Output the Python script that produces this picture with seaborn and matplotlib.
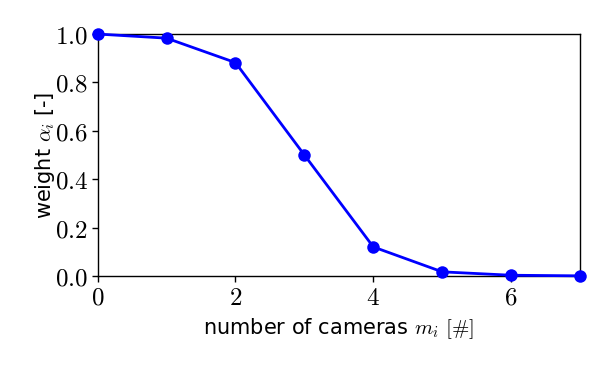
import numpy as np
import pandas as pd
import matplotlib
matplotlib.use("Agg")
import matplotlib.pyplot as plt
import seaborn as sns

# values
cameras = [0, 1, 2, 3, 4, 5, 6, 7]
weights = [1.0, 0.983, 0.882, 0.5, 0.12, 0.017, 0.003, 0.0005]
x_ticks = [0, 2, 4, 6]
y_ticks = [0.0, 0.2, 0.4, 0.6, 0.8, 1.0]

df = pd.DataFrame({"cameras": cameras, "weight": weights})

sns.set_theme(style="white")
plt.rcParams.update({
    "font.family": ["DejaVu Sans"],
    "mathtext.fontset": "cm",
    "axes.edgecolor": "black",
    "axes.linewidth": 1.0,
    "xtick.color": "black",
    "ytick.color": "black",
})

fig, ax = plt.subplots(figsize=(6.1, 3.66), dpi=100)
fig.subplots_adjust(left=0.16, right=0.951, top=0.907, bottom=0.246)

sns.lineplot(data=df, x="cameras", y="weight", ax=ax, color="blue",
             linewidth=2, marker="o", markersize=9, markeredgewidth=0,
             clip_on=False, zorder=5)

ax.set_xlim(0, 7)
ax.set_ylim(0, 1)
ax.set_xticks(x_ticks)
ax.set_yticks(y_ticks)
ax.set_xticklabels([f"${t}$" for t in x_ticks], fontsize=18)
ax.set_yticklabels([f"${t:.1f}$" for t in y_ticks], fontsize=18)
ax.tick_params(axis="both", direction="out", length=4, width=1,
               bottom=True, left=True, top=False, right=False, pad=3)
for s in ax.spines.values():
    s.set_visible(True)
    s.set_color("black")

ax.set_xlabel(r"number of cameras $m_i$ $[\#]$", fontsize=15, color="black",
              labelpad=5)
ax.set_ylabel(r"weight $\alpha_i$ [-]", fontsize=15, color="black",
              labelpad=-2)

plt.savefig("out.png", dpi=100)
plt.close()
